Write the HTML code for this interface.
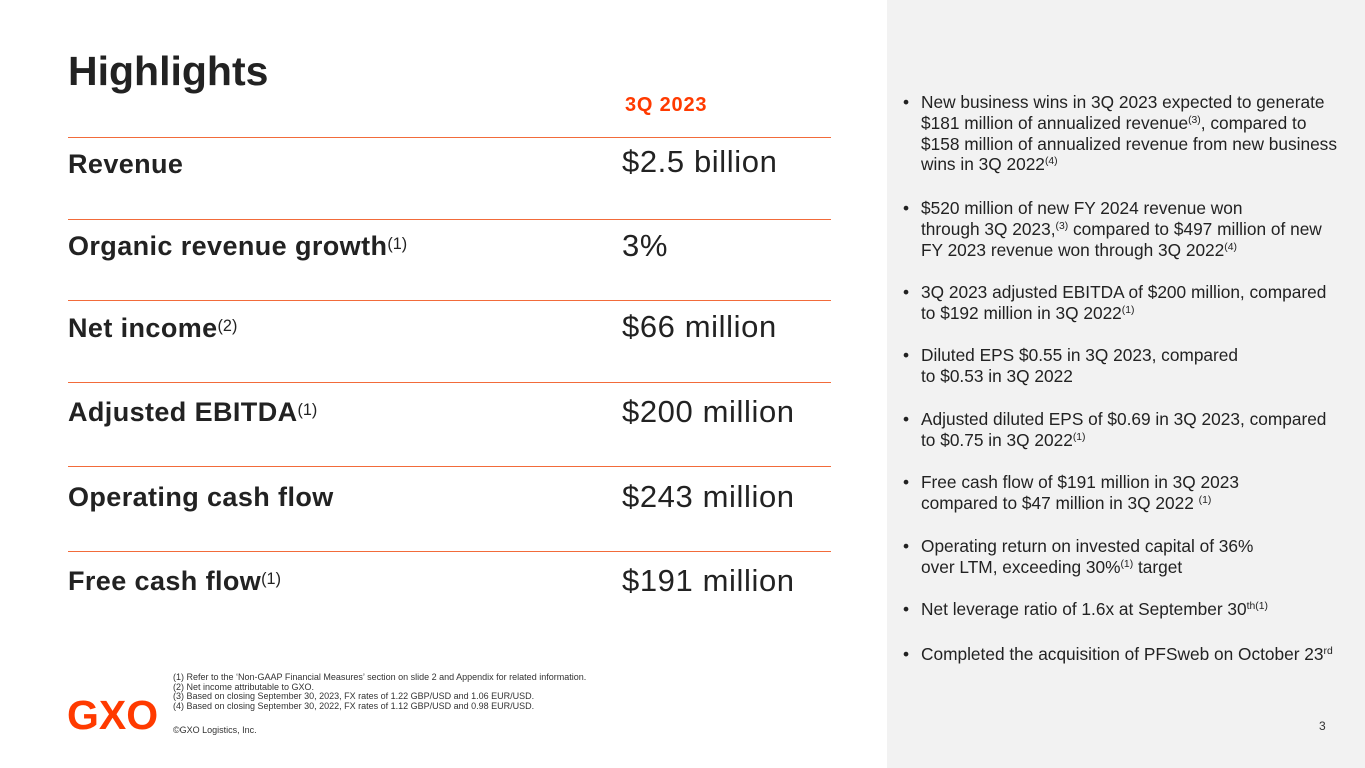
<!DOCTYPE html>
<html><head><meta charset="utf-8"><style>
body{margin:0;width:1365px;height:768px;position:relative;overflow:hidden;background:#fff;font-family:"Liberation Sans",sans-serif;color:#222}
.a{position:absolute;white-space:nowrap}
.panel{position:absolute;left:887px;top:0;width:478px;height:768px;background:#f2f2f2}
.rule{position:absolute;left:68px;width:763px;height:1px;background:#f26b3a}
.lbl{position:absolute;left:68px;font-weight:bold;font-size:27px;letter-spacing:0.4px;color:#222;line-height:30px}
.lbl sup,.b sup{font-weight:normal;font-size:60%;vertical-align:top;position:relative;top:-2px;letter-spacing:0}
.val{position:absolute;left:622px;font-size:31px;letter-spacing:0.6px;color:#222;line-height:34px}
.b{position:absolute;left:903px;font-size:17.3px;line-height:20.8px;color:#222;white-space:nowrap}
.b span.dot{position:absolute;left:0}
.b div{margin-left:18px}
.fn{position:absolute;left:173px;font-size:9px;line-height:9.6px;color:#333;white-space:nowrap}
</style></head><body>
<div class="panel"></div>
<div class="a" style="left:68px;top:48px;font-size:41px;font-weight:bold;color:#222">Highlights</div>
<div class="a" style="left:625px;top:94px;font-size:20px;letter-spacing:0.8px;font-weight:bold;color:#ff3a00">3Q 2023</div>

<div class="rule" style="top:137px"></div>
<div class="lbl" style="top:149px">Revenue</div>
<div class="val" style="top:145px">$2.5 billion</div>
<div class="rule" style="top:219px"></div>
<div class="lbl" style="top:231px">Organic revenue growth<sup>(1)</sup></div>
<div class="val" style="top:229px">3%</div>
<div class="rule" style="top:300px"></div>
<div class="lbl" style="top:313px">Net income<sup>(2)</sup></div>
<div class="val" style="top:310px">$66 million</div>
<div class="rule" style="top:382px"></div>
<div class="lbl" style="top:397px">Adjusted EBITDA<sup>(1)</sup></div>
<div class="val" style="top:395px">$200 million</div>
<div class="rule" style="top:466px"></div>
<div class="lbl" style="top:482px">Operating cash flow</div>
<div class="val" style="top:480px">$243 million</div>
<div class="rule" style="top:551px"></div>
<div class="lbl" style="top:566px">Free cash flow<sup>(1)</sup></div>
<div class="val" style="top:564px">$191 million</div>

<div class="b" style="top:92px"><span class="dot">•</span><div>New business wins in 3Q 2023 expected to generate<br>$181 million of annualized revenue<sup>(3)</sup>, compared to<br>$158 million of annualized revenue from new business<br>wins in 3Q 2022<sup>(4)</sup></div></div>
<div class="b" style="top:198px"><span class="dot">•</span><div>$520 million of new FY 2024 revenue won<br>through 3Q 2023,<sup>(3)</sup> compared to $497 million of new<br>FY 2023 revenue won through 3Q 2022<sup>(4)</sup></div></div>
<div class="b" style="top:282px"><span class="dot">•</span><div>3Q 2023 adjusted EBITDA of $200 million, compared<br>to $192 million in 3Q 2022<sup>(1)</sup></div></div>
<div class="b" style="top:345px"><span class="dot">•</span><div>Diluted EPS $0.55 in 3Q 2023, compared<br>to $0.53 in 3Q 2022</div></div>
<div class="b" style="top:409px"><span class="dot">•</span><div>Adjusted diluted EPS of $0.69 in 3Q 2023, compared<br>to $0.75 in 3Q 2022<sup>(1)</sup></div></div>
<div class="b" style="top:472px"><span class="dot">•</span><div>Free cash flow of $191 million in 3Q 2023<br>compared to $47 million in 3Q 2022 <sup>(1)</sup></div></div>
<div class="b" style="top:536px"><span class="dot">•</span><div>Operating return on invested capital of 36%<br>over LTM, exceeding 30%<sup>(1)</sup> target</div></div>
<div class="b" style="top:599px"><span class="dot">•</span><div>Net leverage ratio of 1.6x at September 30<sup>th(1)</sup></div></div>
<div class="b" style="top:644px"><span class="dot">•</span><div>Completed the acquisition of PFSweb on October 23<sup>rd</sup></div></div>

<div class="fn" style="top:673px">(1) Refer to the ‘Non-GAAP Financial Measures’ section on slide 2 and Appendix for related information.<br>(2) Net income attributable to GXO.<br>(3) Based on closing September 30, 2023, FX rates of 1.22 GBP/USD and 1.06 EUR/USD.<br>(4) Based on closing September 30, 2022, FX rates of 1.12 GBP/USD and 0.98 EUR/USD.</div>
<div class="fn" style="top:726px">©GXO Logistics, Inc.</div>
<div class="a" style="left:67px;top:692px;font-size:41px;font-weight:bold;color:#ff3a00;letter-spacing:0px;line-height:46px">GXO</div>
<div class="a" style="left:1319px;top:719px;font-size:12px;color:#333">3</div>
</body></html>
